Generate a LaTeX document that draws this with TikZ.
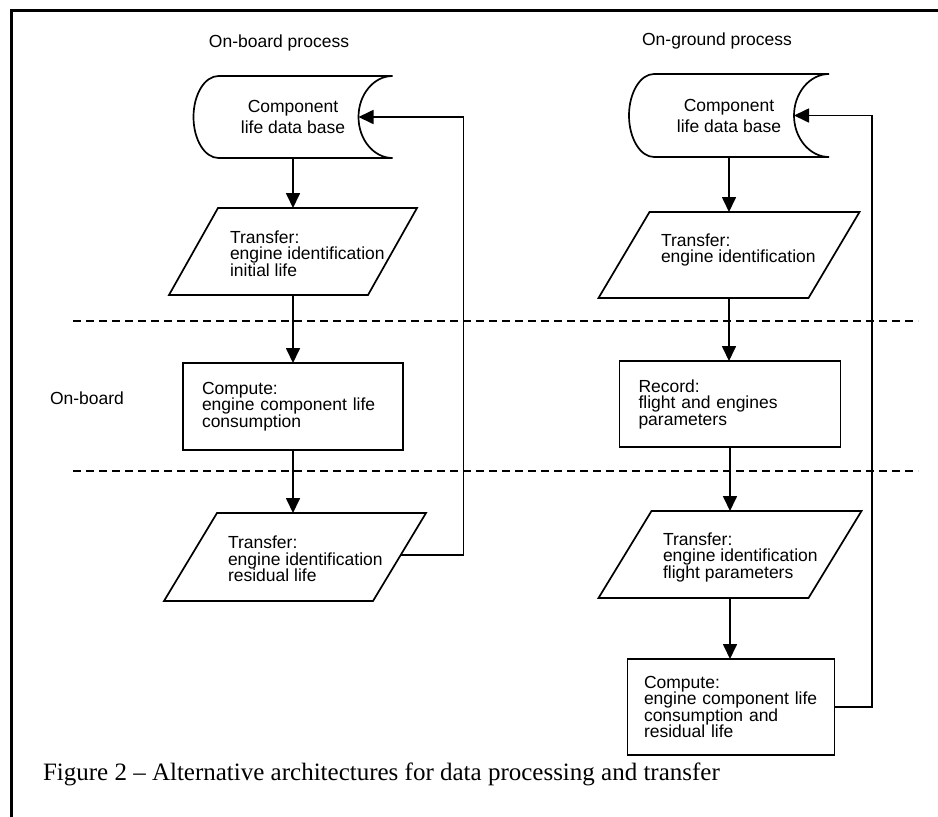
\documentclass[tikz,border=0pt]{standalone}
\usepackage{fontspec}
\setmainfont{Liberation Sans}
\newfontfamily\capfont{Liberation Serif}
\usetikzlibrary{arrows.meta,calc}

% outline of a stored-data symbol around an (invisible) node
\newcommand\drawstore[2]{%
  \draw[outline] ($(#1.north west)+(25,0)$)
    .. controls ($(#1.north west)+(11.2,0)$) and ($(#1.west)+(0,-22.6)$) .. (#1.west)
    .. controls ($(#1.west)+(0,22.6)$) and ($(#1.south west)+(11.2,0)$) .. ($(#1.south west)+(25,0)$)
    -- (#1.south east)
    .. controls ($(#1.south east)+(-0.55*#2,0)$) and ($(#1.east)+(-#2,22.6)$) .. ($(#1.east)+(-#2,0)$)
    .. controls ($(#1.east)+(-#2,-22.6)$) and ($(#1.north east)+(-0.55*#2,0)$) .. (#1.north east)
    -- cycle;}
% outline of an input/output parallelogram around an (invisible) node
\newcommand\drawio[2]{%
  \draw[outline] ($(#1.north west)+(#2,0)$) -- (#1.north east)
    -- ($(#1.south east)+(-#2,0)$) -- (#1.south west) -- cycle;}

\begin{document}
\begin{tikzpicture}[x=1pt,y=-1pt,
  every node/.style={inner sep=0pt, outer sep=0pt},
  hold/.style 2 args={minimum width=#1, minimum height=#2},
  outline/.style={draw=black, line width=1.7pt, line join=miter},
  lbl/.style={font=\fontsize{17.5}{16.5}\selectfont, align=left},
  dblbl/.style={font=\fontsize{17.5}{21}\selectfont, align=center},
  hdr/.style={font=\fontsize{17.5}{20}\selectfont},
  procbox/.style={outline, lbl},
  flow/.style={line width=1.7pt, -{Triangle[length=15pt,width=14pt]}},
  zone/.style={line width=1.5pt, dash pattern=on 8pt off 5pt},
  frameline/.style={line width=3pt}
]
\useasboundingbox (0,0) rectangle (938,817);

% page frame
\coordinate (fbl) at (11,817);
\coordinate (ftl) at (11,10);
\coordinate (ftr) at (940,10);
\draw[frameline] (fbl) -- (ftl) -- (ftr);

% column headings and zone label
\node[hdr] (hd1) at (279,43) {On-board process};
\node[hdr] (hd2) at (717,41) {On-ground process};
\node[hdr] (zonelbl) at (87,398) {On-board};

% zone boundaries
\coordinate (z1a) at (73,321);  \coordinate (z1b) at (918,321);
\coordinate (z2a) at (73,471);  \coordinate (z2b) at (918,471);
\draw[zone] (z1a) -- (z1b);
\draw[zone] (z2a) -- (z2b);

% ---------- on-board process ----------
\node[dblbl, hold={199pt}{82pt}] (db1) at (293,117) {Component\\life data base};
\drawstore{db1}{34}

\node[hold={248pt}{87pt}] (tr1) at (293,251.5) {};
\drawio{tr1}{49}
\node[lbl, anchor=west] (tr1t) at (230,253.5) {Transfer:\\engine identification\\initial life};

\node[procbox, hold={220pt}{87pt}, text width=182pt] (cp1) at (293,406.5)
  {Compute:\\engine component life\\consumption};

\node[hold={262pt}{88pt}] (tr2) at (295,557) {};
\drawio{tr2}{53}
\node[lbl, anchor=west] (tr2t) at (228,559) {Transfer:\\engine identification\\residual life};

\draw[flow] (db1.south) -- (db1.south |- tr1.north);
\draw[flow] (tr1.south) -- (tr1.south |- cp1.north);
\draw[flow] (cp1.south) -- (cp1.south |- tr2.north);

\coordinate (fb1) at (400.7,555);
\draw[flow] (fb1) -| ($(db1.east)+(71,0)$) -- ($(db1.east)+(-34,0)$);

% ---------- on-ground process ----------
\node[dblbl, hold={200pt}{83pt}] (db2) at (729,115.5) {Component\\life data base};
\drawstore{db2}{35}

\node[hold={261pt}{86pt}] (tr3) at (729,255) {};
\drawio{tr3}{51}
\node[lbl, anchor=west] (tr3t) at (661,250) {Transfer:\\engine identification};

\node[procbox, hold={221pt}{86pt}, text width=183pt] (rec) at (730,404)
  {Record:\\flight and engines\\parameters};

\node[hold={263pt}{87pt}] (tr4) at (730,554.5) {};
\drawio{tr4}{53}
\node[lbl, anchor=west] (tr4t) at (663,557) {Transfer:\\engine identification\\flight parameters};

\node[procbox, hold={207pt}{96pt}, text width=174pt] (cp2) at (731,707)
  {Compute:\\engine component life\\consumption and\\residual life};

\draw[flow] (db2.south) -- (db2.south |- tr3.north);
\draw[flow] (tr3.south) -- (tr3.south |- rec.north);
\draw[flow] (rec.south) -- (rec.south |- tr4.north);
\draw[flow] (tr4.south) -- (tr4.south |- cp2.north);

\draw[flow] (cp2.east) -| ($(db2.east)+(43,0)$) -- ($(db2.east)+(-35,0)$);

% caption
\node[anchor=base west, font=\capfont\fontsize{25}{30}\selectfont] (cap) at (43,780)
  {Figure 2 – Alternative architectures for data processing and transfer};
\end{tikzpicture}
\end{document}
